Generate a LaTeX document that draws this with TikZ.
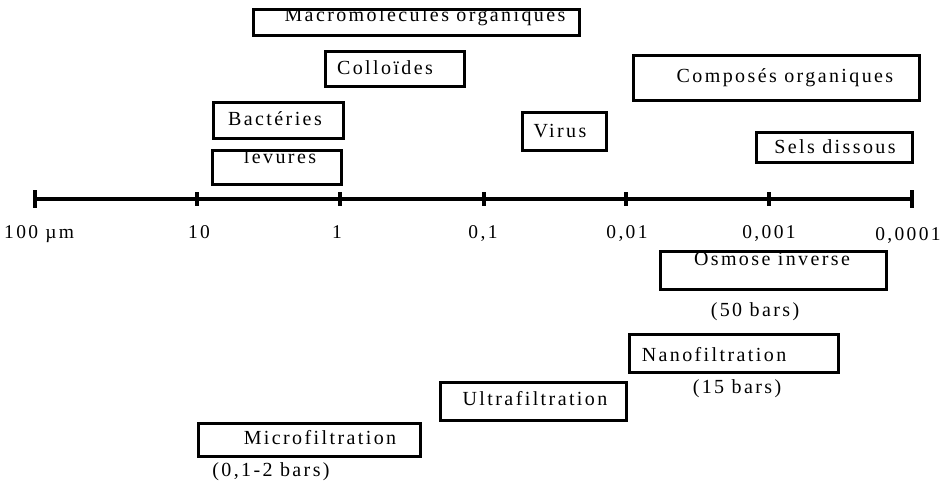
\documentclass[tikz,border=0pt]{standalone}
\usepackage{fontspec}
\setmainfont{Liberation Serif}[LetterSpace=12]
\begin{document}
\begin{tikzpicture}[x=1pt,y=-1pt,
  box/.style={draw, line width=3pt, rectangle, inner sep=0pt},
  lbl/.style={font=\fontsize{20}{23}\selectfont, inner sep=0pt, anchor=base},
  axl/.style={font=\fontsize{19.5}{23}\selectfont, inner sep=0pt, anchor=base},
  tick/.style={line width=4.5pt}]
\useasboundingbox (0,0) rectangle (949,483);
% axis
\coordinate (a0) at (35,199);
\coordinate (a6) at (912,199);
\draw[line width=4.2pt] (a0) -- (a6);
\foreach \x/\n in {35/t0,912/t6} {
  \coordinate (\n) at (\x,199);
  \draw[tick] (\x,190) -- (\x,208);
}
\foreach \x/\n in {197/t1,340/t2,484/t3,626/t4,769/t5} {
  \coordinate (\n) at (\x,199);
  \draw[tick] (\x,192) -- (\x,206);
}
\node[axl, anchor=base west] (l0) at (4,238) {100 µm};
\node[axl] (l1) at (199,238) {10};
\node[axl] (l2) at (337,238) {1};
\node[axl] (l3) at (483,238) {0,1};
\node[axl] (l4) at (627,238) {0,01};
\node[axl] (l5) at (769,238) {0,001};
\node[axl] (l6) at (908,240) {0,0001};
% boxes (top)
\node[box, minimum width=326pt, minimum height=26pt] (macro) at (416,22) {};
\begin{scope}
  \clip (250,11) rectangle (585,40);
  \node[lbl, fill=white, inner xsep=2pt, inner ysep=1pt] (macrot) at (425,21.5) {Macromolécules organiques};
\end{scope}
\node[box, minimum width=139pt, minimum height=35pt] (coll) at (394.5,68.5) {};
\node[lbl] (collt) at (385,74) {Colloïdes};
\node[box, minimum width=130pt, minimum height=36pt] (bact) at (278,120) {};
\node[lbl] (bactt) at (275,125) {Bactéries};
\node[lbl] (levt) at (280,163.5) {levures};
\node[box, minimum width=129pt, minimum height=34pt, fill=none] (lev) at (276.5,167) {};
\node[box, minimum width=84pt, minimum height=38pt] (virus) at (564,131) {};
\node[lbl] (virust) at (560,137) {Virus};
\node[box, minimum width=286pt, minimum height=45pt] (comp) at (776,77.5) {};
\node[lbl] (compt) at (785,82) {Composés organiques};
\node[box, minimum width=156pt, minimum height=30pt] (sels) at (834,147) {};
\node[lbl] (selst) at (835,153) {Sels dissous};
% boxes (bottom)
\node[lbl] (osmt) at (772,265) {Osmose inverse};
\node[box, minimum width=226pt, minimum height=38pt] (osm) at (773,270) {};
\node[lbl] (osmp) at (755,316) {(50 bars)};
\node[box, minimum width=209pt, minimum height=38pt] (nano) at (733.5,353) {};
\node[lbl] (nanot) at (714,361) {Nanofiltration};
\node[lbl] (nanop) at (737,393) {(15 bars)};
\node[box, minimum width=186pt, minimum height=38pt] (ultra) at (533,401) {};
\node[lbl] (ultrat) at (535,405) {Ultrafiltration};
\node[box, minimum width=222pt, minimum height=33pt] (micro) at (309,439.5) {};
\node[lbl] (microt) at (320,444) {Microfiltration};
\node[lbl] (microp) at (271,476) {(0,1-2 bars)};
\end{tikzpicture}
\end{document}
